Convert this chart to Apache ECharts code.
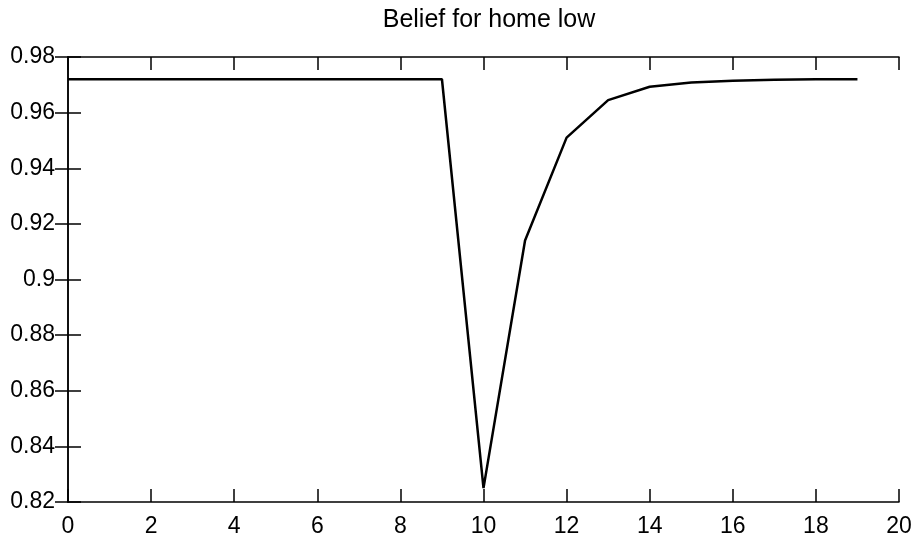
<!DOCTYPE html>
<html>
<head>
<meta charset="utf-8">
<script src="https://cdn.jsdelivr.net/npm/echarts@6/dist/echarts.min.js"></script>
<style>html,body{margin:0;padding:0;background:#fff}#c{width:915px;height:544px}</style>
</head>
<body>
<div id="c"></div>
<script>
var titleText = 'Belief for home low';
var xValues = [0,1,2,3,4,5,6,7,8,9,10,11,12,13,14,15,16,17,18,19];
var beliefValues = [0.972,0.972,0.972,0.972,0.972,0.972,0.972,0.972,0.972,0.972,0.825,0.914,0.951,0.9645,0.9693,0.9708,0.9715,0.9718,0.972,0.972];
var xTicks = {min:0, max:20, interval:2};
var yTicks = {min:0.82, max:0.98, interval:0.02};

var font = 'Liberation Sans';
var chart = echarts.init(document.getElementById('c'), null, {renderer:'canvas'});
var axisLine = {show:true, lineStyle:{color:'#000', width:1.5}};
var tick = {show:true, inside:true, length:13, lineStyle:{color:'#000', width:1.5}};
chart.setOption({
  animation:false,
  backgroundColor:'#fff',
  title:{text:titleText, left:484, textAlign:'center', top:3,
    textStyle:{fontFamily:font, fontSize:25, fontWeight:'normal', color:'#000'}},
  grid:{left:68, right:16, top:57, bottom:42, containLabel:false},
  xAxis:[
    {type:'value', min:xTicks.min, max:xTicks.max, interval:xTicks.interval, position:'bottom',
     axisLine:axisLine, axisTick:tick, splitLine:{show:false},
     axisLabel:{fontFamily:font, fontSize:23, color:'#000', margin:13}},
    {type:'value', min:xTicks.min, max:xTicks.max, interval:xTicks.interval, position:'top',
     axisLine:axisLine, axisTick:tick, splitLine:{show:false}, axisLabel:{show:false}}
  ],
  yAxis:[
    {type:'value', min:yTicks.min, max:yTicks.max, interval:yTicks.interval, position:'left',
     axisLine:axisLine, axisTick:tick, splitLine:{show:false},
     axisLabel:{fontFamily:font, fontSize:23, color:'#000', margin:13,
       formatter:function(v){return String(parseFloat(v.toFixed(4)));}}},
    {type:'value', min:yTicks.min, max:yTicks.max, interval:yTicks.interval, position:'right',
     axisLine:axisLine, axisTick:tick, splitLine:{show:false}, axisLabel:{show:false}}
  ],
  series:[{
    type:'line', xAxisIndex:0, yAxisIndex:0,
    data:xValues.map(function(x,i){return [x, beliefValues[i]];}),
    showSymbol:false, symbol:'none',
    lineStyle:{color:'#000', width:2.5}
  }]
});
</script>
</body>
</html>
